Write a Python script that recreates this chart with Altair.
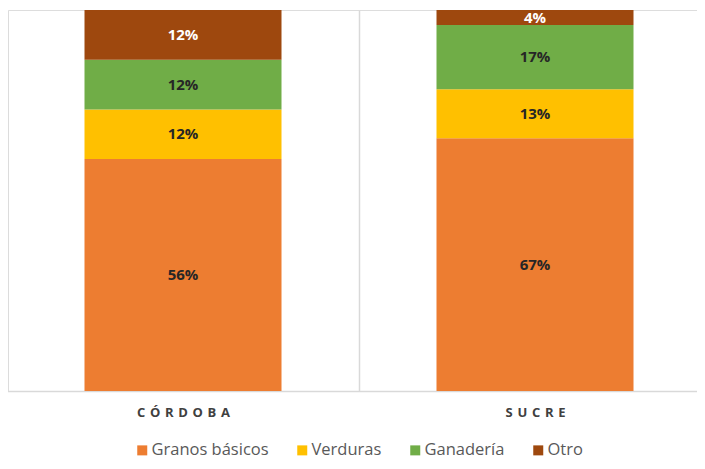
import altair as alt
import pandas as pd

regiones = ["Córdoba", "Córdoba", "Córdoba", "Córdoba", "Sucre", "Sucre", "Sucre", "Sucre"]
categorias = ["Granos básicos", "Verduras", "Ganadería", "Otro"] * 2
valores = [56, 12, 12, 12, 67, 13, 17, 4]
orden = [1, 2, 3, 4] * 2

cat_domain = ["Granos básicos", "Verduras", "Ganadería", "Otro"]
cat_colors = ["#ED7D31", "#FFC000", "#70AD47", "#9E480E"]

df = pd.DataFrame({"Región": regiones, "Categoría": categorias, "Valor": valores, "orden": orden})

x_enc = alt.X(
    "Región:N",
    sort=["Córdoba", "Sucre"],
    scale=alt.Scale(range=[-1, 703], paddingInner=0, paddingOuter=0),
    axis=alt.Axis(
        title=None,
        labelAngle=0,
        ticks=False,
        grid=True,
        tickBand="extent",
        gridColor="#d9d9d9",
        gridWidth=1.5,
        domainColor="#d9d9d9",
        domainWidth=1.5,
        labelFont="Open Sans",
        labelFontWeight="bold",
        labelFontSize=13,
        labelColor="#404040",
        labelPadding=15,
        labelExpr="join(split(upper(datum.label), ''), ' \u200a')",
    ),
)

base = alt.Chart(df).transform_stack(
    stack="Valor",
    groupby=["Región"],
    as_=["y0", "y1"],
    offset="normalize",
    sort=[alt.SortField("orden", order="ascending")],
).transform_calculate(
    mid="(datum.y0 + datum.y1) / 2",
    etiqueta="datum.Valor + '%'",
)

bars = base.mark_bar(size=197).encode(
    x=x_enc,
    y=alt.Y("y0:Q", scale=alt.Scale(domain=[0, 1], nice=False, zero=True), axis=None),
    y2="y1:Q",
    color=alt.Color(
        "Categoría:N",
        scale=alt.Scale(domain=cat_domain, range=cat_colors),
        sort=cat_domain,
        legend=alt.Legend(
            title=None,
            orient="none",
            legendX=126,
            legendY=432,
            direction="horizontal",
            symbolType="square",
            symbolSize=100,
            symbolStrokeWidth=0,
            symbolOffset=0,
            labelOffset=1,
            labelFont="Open Sans",
            labelFontSize=16.5,
            labelColor="#595959",
            columnPadding=25,
        ),
    ),
)

texts = base.mark_text(font="Open Sans", fontWeight="bold", fontSize=15, baseline="middle").encode(
    x=alt.X("Región:N", sort=["Córdoba", "Sucre"]),
    y=alt.Y("mid:Q"),
    text="etiqueta:N",
    color=alt.condition(alt.datum.Categoría == "Otro", alt.value("#ffffff"), alt.value("#262626")),
)

chart = alt.layer(bars, texts).properties(
    width=689,
    height=381,
    autosize=alt.AutoSizeParams(type="none"),
    padding={"left": 0, "top": 2, "right": 0, "bottom": 70},
).configure_view(stroke=None).configure(background="#ffffff")

chart.save("out.html", embed_options={"renderer": "svg", "actions": False})
